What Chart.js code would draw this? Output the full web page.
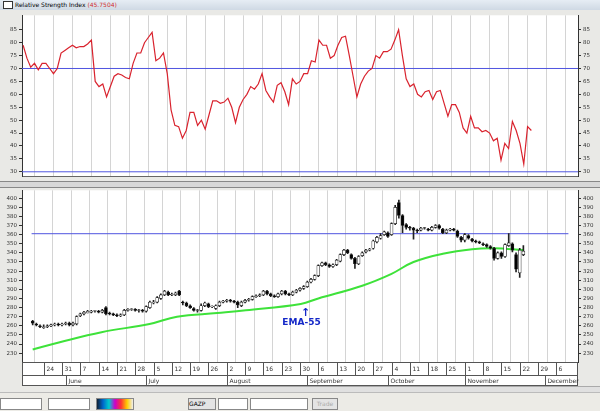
<!DOCTYPE html>
<html><head><meta charset="utf-8">
<script src="https://cdn.jsdelivr.net/npm/chart.js@4.4.1/dist/chart.umd.min.js"></script>
<style>
body{margin:0;width:600px;height:411px;background:#e9e9e6;position:relative;overflow:hidden;font-family:"DejaVu Sans",sans-serif}
#hdr{position:absolute;left:0;top:0;width:600px;height:10px;background:linear-gradient(#e6edf4,#cfd9e4);font-size:6px;line-height:10px}
#hdr span.box{display:inline-block;width:8px;height:6px;border:1px solid #333;background:#fff;margin:0 2px 0 3px;vertical-align:middle}
canvas{position:absolute;left:0}
#c1{top:10px}#c2{top:185px}
#sep{position:absolute;left:0;top:181px;width:600px;height:5px;background:#d8d8d8;border-top:1px solid #888;border-bottom:1px solid #888}
#tb{position:absolute;left:0;top:392px;width:600px;height:19px;background:#ecebe6;border-top:1px solid #bbb}
.dd{position:absolute;top:5px;height:10px;background:#fff;border:1px solid #888}
#sb{position:absolute;left:80px;top:386px;width:520px;height:6px;background:#e0e0e0;border-top:1px solid #aaa}
</style></head><body>
<div id="hdr"><span class="box"></span>Relative Strength Index <span style="color:#d03030">(45.7504)</span></div>
<canvas id="c1" width="600" height="172"></canvas>
<div id="sep"></div>
<canvas id="c2" width="600" height="201"></canvas>
<div id="sb"></div>
<div id="tb">
<div class="dd" style="left:0;width:40px"></div><div class="dd" style="left:48px;width:40px"></div>
<div class="dd" style="left:96px;width:36px;background:linear-gradient(90deg,#123,#06c,#0cc,#c0c,#f33,#fc0,#eee)"></div>
<div class="dd" style="left:188px;width:26px;font-size:6px;line-height:10px;background:#e4e4e4">GAZP</div>
<div class="dd" style="left:218px;width:28px"></div><div class="dd" style="left:250px;width:56px"></div>
<div class="dd" style="left:312px;width:24px;background:#e4e4e4;color:#aaa;font-size:6px;line-height:10px;text-align:center">Trade</div>
</div>
<script>
const weekDays=['24','31','7','14','21','28','5','12','19','26','2','9','16','23','30','6','13','20','27','4','11','18','25','1','8','15','22','29','6'];
const weekIdx=[3,8,13,18,23,28,33,38,43,48,53,58,63,68,73,78,83,88,93,98,103,108,113,118,123,128,133,138,143];
const monthNames=['June','July','August','September','October','November','December'];
const monthIdx=[9,31,53,75,97,118,140];
const rsi=[79,74,70.5,72,69.5,72,72,70,68,70,76,77,78,79,78,78.5,78.5,79.5,81,65,63,64,59,63,67,68,67.5,66.5,66,72,76,76,80,82,84,73,74,76,68,54,48,47.5,43,46,53,53,48,50,46.5,52,57.5,57.5,56.5,57,58.5,55,49,55,58,60,63,62,64,68,61.5,59,57,63.5,64.5,61,56,66,
64,65,68,68,73,72.5,81,79,79,74,75,79,82,82.5,75,67,59,64,67,69,70,75,74,76.5,76.5,77.5,81,85,75,66,63,64,60,59,61,61.5,58,61,61.5,56.5,51.5,56,56,53,47,45,51.5,47,47,45.5,46,45,42,43,34.5,41,39,49.5,46,41,33,47.5,46];
const closeP=[263,261,259,259,260,261,262,261,262,263,261,263,270,273,275,276,276,276,275,277,273,273,272,271,272,277,278,278,277,277,276,281,286,286,291,294,298,294,294,296,294,285,282,280,277,277,282,285,281,281,282,286,287,288,287,286,283,286,288,289,292,293,294,298,295,293,292,295,298,295,294,297,299,301,303,308,311,315,326,329,327,325,327,332,338,343,340,334,328,336,340,343,344,353,357,359,363,358,372,390,381,370,368,367,365,364,367,367,365,368,370,367,362,365,366,365,358,354,360,356,353,352,351,349,347,345,334,340,336,349,351,343,322,343,342];
const openP=[265,262,260,258,259,260,261,262,261,262,263,261,262,271,273,274,275,276,276,275,280,274,273,272,271,272,277,278,278,277,277,276,280,285,286,290,294,297,294,294,298,286,285,282,279,277,277,282,284,281,279,282,286,287,288,287,286,282,286,288,289,292,293,294,298,295,293,292,295,298,295,294,297,299,301,303,308,311,315,326,329,327,325,327,331,338,343,338,334,328,337,341,343,345,352,356,360,362,360,372,395,381,371,368,367,365,365,367,366,365,368,370,366,362,365,366,364,357,354,359,355,353,352,350,349,347,345,334,340,336,348,350,338,318,338];
const highP=[266,263,261,261,261,262,263,263,263,264,264,264,271,274,276,277,277,277,277,278,281,275,274,273,273,278,279,279,279,278,278,282,287,288,292,295,299,298,296,297,299,287,286,283,280,278,284,286,285,282,283,287,288,289,289,288,287,287,289,290,293,294,295,299,299,296,294,296,299,299,296,298,300,302,304,309,312,316,327,330,330,328,328,333,339,344,344,339,335,337,341,344,345,354,358,361,364,363,373,392,398,382,372,369,368,366,368,368,367,369,371,371,367,366,367,367,365,358,361,360,356,354,353,351,350,348,346,341,341,350,361,351,340,345,348];
const lowP=[261,260,258,257,258,259,260,260,260,261,260,260,261,270,272,274,274,275,274,274,272,272,271,270,270,271,276,277,276,275,275,275,279,284,285,289,293,293,293,293,293,283,281,279,276,275,276,281,280,280,278,281,285,286,286,285,280,281,285,287,288,291,292,293,294,292,291,291,294,294,293,293,296,298,300,302,307,310,314,325,326,324,324,326,330,337,339,333,323,327,336,340,342,344,351,355,359,357,359,371,378,362,366,365,355,362,364,366,364,364,367,366,361,361,364,364,357,352,352,355,352,351,350,348,346,344,332,333,334,335,347,341,319,313,337];
const emaDay=[0,7.4,18.8,31.9,39.4,50.4,58.2,73.2,78,90,98,104,112,120,126,134];
const emaVal=[234,242,253,262,270,274,277,284,290,304,317,330,339,344,345,343];
const rsiLevels=[70,30];
const priceLevel=[361];
const XMIN=-0.3,XMAX=146.3;
const F='"DejaVu Sans",sans-serif';
function yAxis(pos,min,max,step,lo,hi,w){return {position:pos,min:min,max:max,
 afterBuildTicks:s=>{const t=[];for(let v=lo;v<=hi;v+=step)t.push({value:v});s.ticks=t;},
 afterFit:s=>{s.width=w;},
 grid:{drawOnChartArea:false,tickLength:3,color:'#333'},border:{color:'#333'},
 ticks:{font:{size:5.5,family:F},color:'#333',padding:2,autoSkip:false}};}
function xAxis(h){return {type:'linear',min:XMIN,max:XMAX,
 afterBuildTicks:s=>{s.ticks=weekIdx.map(v=>({value:v}));},
 afterFit:s=>{s.height=h;},
 grid:{color:'#d4d4d4',borderDash:[2,2],drawTicks:false},border:{color:'#666'},
 ticks:{display:false}};}
const lvlData=v=>[{x:XMIN,y:v},{x:XMAX,y:v}];
new Chart(document.getElementById('c1'),{type:'line',
 data:{datasets:[
  {data:rsi.map((v,i)=>({x:i,y:v})),borderColor:'#d9232e',borderWidth:1.2,pointRadius:0,tension:0},
  ...rsiLevels.map(v=>({data:lvlData(v),borderColor:'#5055e0',borderWidth:1,pointRadius:0}))]},
 options:{animation:false,responsive:false,layout:{padding:{top:2,bottom:0,left:0,right:0}},
  plugins:{legend:{display:false},tooltip:{enabled:false}},
  scales:{x:xAxis(1),y:yAxis('left',28.1,90.6,5,30,85,22),y2:yAxis('right',28.1,90.6,5,30,85,22)}},
 plugins:[{id:'bg',beforeDraw:c=>{const a=c.chartArea,x=c.ctx;x.save();x.fillStyle='#fff';x.fillRect(a.left,a.top,a.right-a.left,a.bottom-a.top);x.restore();}}]});
const wick=closeP.map((c,i)=>({x:i,y:[lowP[i],highP[i]]}));
const body=closeP.map((c,i)=>({x:i,y:[openP[i],c===openP[i]?c+0.6:c]}));
const fills=closeP.map((c,i)=>c>=openP[i]?'#fff':'#000');
new Chart(document.getElementById('c2'),{type:'bar',
 data:{datasets:[
  {type:'line',data:emaDay.map((d,i)=>({x:d,y:emaVal[i]})),borderColor:'#3ee23a',borderWidth:2,pointRadius:0,tension:0.4,order:3},
  {type:'line',data:lvlData(priceLevel[0]),borderColor:'#5055e0',borderWidth:1,pointRadius:0,order:2},
  {data:wick,backgroundColor:'#222',barThickness:1,grouped:false,order:1},
  {data:body,backgroundColor:fills,borderColor:'#222',borderWidth:0.7,borderSkipped:false,barThickness:3,grouped:false,order:0}]},
 options:{animation:false,responsive:false,layout:{padding:{top:2,bottom:0}},
  plugins:{legend:{display:false},tooltip:{enabled:false}},
  scales:{x:xAxis(24),y:yAxis('left',220.3,408.6,10,230,400,22),y2:yAxis('right',220.3,408.6,10,230,400,22)}},
 plugins:[{id:'bg',beforeDraw:c=>{const a=c.chartArea,x=c.ctx;x.save();x.fillStyle='#fff';x.fillRect(a.left,a.top,a.right-a.left,a.bottom-a.top);x.restore();},
  afterDraw:c=>{const x=c.ctx,a=c.chartArea,sx=c.scales.x,sy=c.scales.y;x.save();
   const y0=a.bottom,y1=y0+13,y2=y0+24;
   x.fillStyle='#fff';x.fillRect(a.left,y0,a.right-a.left,24);
   x.strokeStyle='#555';x.lineWidth=1;x.strokeRect(a.left+0.5,y0+0.5,a.right-a.left-1,23);
   x.beginPath();x.moveTo(a.left,y1+0.5);x.lineTo(a.right,y1+0.5);x.stroke();
   x.font='6px '+F;x.fillStyle='#333';x.textBaseline='middle';
   weekIdx.forEach((d,i)=>{const px=Math.round(sx.getPixelForValue(d))+0.5;x.beginPath();x.moveTo(px,y0);x.lineTo(px,y1);x.stroke();x.fillText(weekDays[i],px+2,y0+7);});
   monthIdx.forEach((d,i)=>{const px=Math.round(sx.getPixelForValue(d))+0.5;x.beginPath();x.moveTo(px,y1);x.lineTo(px,y2);x.stroke();x.fillText(monthNames[i],px+2,y1+6);});
   const ax=sx.getPixelForValue(74.5);x.fillStyle='#1428c8';x.textAlign='center';
   x.font='bold 11px '+F;x.fillText('↑',ax,sy.getPixelForValue(274));
   x.font='bold 9px '+F;x.fillText('EMA-55',ax-4,sy.getPixelForValue(263));
   x.restore();}}]});
</script></body></html>
